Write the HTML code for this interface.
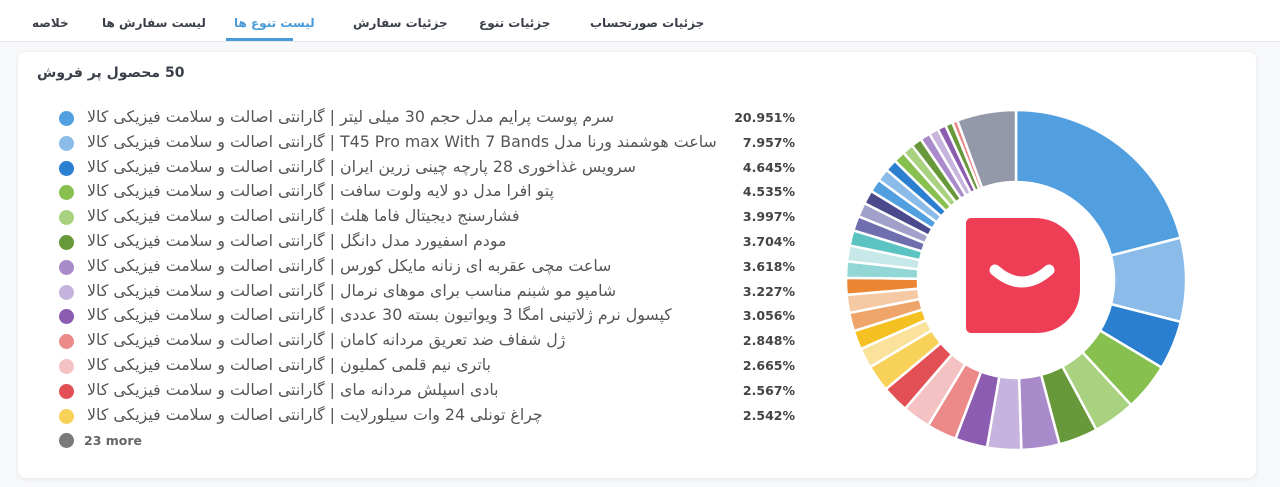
<!DOCTYPE html>
<html><head><meta charset="utf-8">
<style>
body{margin:0;width:1280px;height:487px;background:#f7f8fa;font-family:"DejaVu Sans","Liberation Sans",sans-serif;overflow:hidden;position:relative}
.tabs{position:absolute;left:0;top:0;width:1280px;height:41px;background:#fff;border-bottom:1px solid #e6e8ec}
.tab{position:absolute;top:16px;font-size:12px;font-weight:bold;color:#3a3f4a;direction:rtl;white-space:nowrap}
.tab.active{color:#4a9ad8}
.uline{position:absolute;left:226px;top:38px;width:67px;height:3px;background:#4a9ad8}
.card{position:absolute;left:18px;top:52px;width:1238px;height:426px;background:#fff;border-radius:8px;box-shadow:0 1px 4px rgba(0,0,0,.08)}
.title{position:absolute;left:37px;top:65px;font-size:14px;font-weight:bold;color:#3a3f4a;direction:rtl}
.row{position:absolute;left:58px;height:20px;width:740px;font-size:15.8px;color:#555}
.dot{position:absolute;left:1px;top:2px;width:15px;height:15px;border-radius:50%}
.txt{position:absolute;left:29px;top:-2px;white-space:nowrap;direction:rtl;unicode-bidi:plaintext}
.pct{position:absolute;right:3px;top:1px;font-size:12.5px;font-weight:bold;color:#444}
</style></head><body>
<div class="tabs">
<div class="tab" style="left:590px">جزئیات صورتحساب</div>
<div class="tab" style="left:479px">جزئیات تنوع</div>
<div class="tab" style="left:353px">جزئیات سفارش</div>
<div class="tab active" style="left:234px">لیست تنوع ها</div>
<div class="tab" style="left:102px">لیست سفارش ها</div>
<div class="tab" style="left:32px">خلاصه</div>
<div class="uline"></div>
</div>
<div class="card"></div>
<div class="title">50 محصول پر فروش</div>
<div id="legend"></div>
<svg id="donut" width="1280" height="487" style="position:absolute;left:0;top:0"></svg>
<script>
const labels=["سرم پوست پرایم مدل حجم 30 میلی لیتر | گارانتی اصالت و سلامت فیزیکی کالا","ساعت هوشمند ورنا مدل T45 Pro max With 7 Bands | گارانتی اصالت و سلامت فیزیکی کالا","سرویس غذاخوری 28 پارچه چینی زرین ایران | گارانتی اصالت و سلامت فیزیکی کالا","پتو افرا مدل دو لایه ولوت سافت | گارانتی اصالت و سلامت فیزیکی کالا","فشارسنج دیجیتال فاما هلث | گارانتی اصالت و سلامت فیزیکی کالا","مودم اسفیورد مدل دانگل | گارانتی اصالت و سلامت فیزیکی کالا","ساعت مچی عقربه ای زنانه مایکل کورس | گارانتی اصالت و سلامت فیزیکی کالا","شامپو مو شبنم مناسب برای موهای نرمال | گارانتی اصالت و سلامت فیزیکی کالا","کپسول نرم ژلاتینی امگا 3 ویواتیون بسته 30 عددی | گارانتی اصالت و سلامت فیزیکی کالا","ژل شفاف ضد تعریق مردانه کامان | گارانتی اصالت و سلامت فیزیکی کالا","باتری نیم قلمی کملیون | گارانتی اصالت و سلامت فیزیکی کالا","بادی اسپلش مردانه مای | گارانتی اصالت و سلامت فیزیکی کالا","چراغ تونلی 24 وات سیلورلایت | گارانتی اصالت و سلامت فیزیکی کالا"];
const shownValues=[20.951,7.957,4.645,4.535,3.997,3.704,3.618,3.227,3.056,2.848,2.665,2.567,2.542];
const hiddenValues=[1.9,1.8,1.75,1.7,1.6,1.55,1.5,1.45,1.4,1.35,1.3,1.25,1.2,1.15,1.1,1.05,1.0,0.95,0.9,0.8,0.7,0.5,5.6];
const colors=["#529fe0","#8abbe9","#2a7fd0","#87c04f","#a8d27f","#67983a","#a98bcb","#c7b4de","#8b5cb0","#ec8a8a","#f4c2c2","#e24f55","#f7d158","#fbe29a","#f5c022","#efa56a","#f6c9a5","#ec8632","#93d6d6","#c6e8e8","#5cc3c3","#6f6fb0","#a0a0cb","#4a4a8c","#529fe0","#8abbe9","#2a7fd0","#87c04f","#a8d27f","#67983a","#a98bcb","#c7b4de","#8b5cb0","#67983a","#ec8a8a","#9399a8"];
const values=shownValues.concat(hiddenValues);
const leg=document.getElementById('legend');
shownValues.forEach((v,i)=>{
 const r=document.createElement('div');r.className='row';r.style.top=(109+i*24.8)+'px';
 
 
 r.innerHTML='<div class="dot" style="background:'+colors[i]+'"></div><span class="txt">'+labels[i]+'</span><span class="pct">'+v.toFixed(3)+'%</span>';
 leg.appendChild(r);
});
const more=document.createElement('div');more.className='row';more.style.top=(109+13*24.8)+'px';


more.innerHTML='<div class="dot" style="background:#7a7a7a"></div><span style="position:absolute;left:26px;top:2px;font-size:12.5px;font-weight:bold;color:#666">23 more</span>';
leg.appendChild(more);
const svg=document.getElementById('donut');const NS='http://www.w3.org/2000/svg';
const cx=1016,cy=280,R=170,r0=98;
const total=values.reduce((a,b)=>a+b,0);
let a=0;
function pt(rad,ang){return [cx+rad*Math.sin(ang),cy-rad*Math.cos(ang)];}
values.forEach((v,i)=>{
 const a1=a+v/total*2*Math.PI;
 const p1=pt(R,a),p2=pt(R,a1),p3=pt(r0,a1),p4=pt(r0,a);const lg=(a1-a)>Math.PI?1:0;
 const p=document.createElementNS(NS,'path');
 p.setAttribute('d',`M${p1}A${R},${R} 0 ${lg} 1 ${p2}L${p3}A${r0},${r0} 0 ${lg} 0 ${p4}Z`);
 p.setAttribute('fill',colors[i]);p.setAttribute('stroke','#fff');p.setAttribute('stroke-width','2.5');
 
 
 svg.appendChild(p);a=a1;
});
const logo=document.createElementNS(NS,'path');
logo.setAttribute('d','M971,218 H1035 A45,45 0 0 1 1080,263 V290 A43,43 0 0 1 1037,333 H971 A5,5 0 0 1 966,328 V223 A5,5 0 0 1 971,218 Z');
logo.setAttribute('fill','#ee3e55');


svg.appendChild(logo);
const smile=document.createElementNS(NS,'path');
smile.setAttribute('d','M995,270 Q1022,294 1049,270');smile.setAttribute('fill','none');smile.setAttribute('stroke','#fff');smile.setAttribute('stroke-width','11');smile.setAttribute('stroke-linecap','round');


svg.appendChild(smile);
</script>
</body></html>
